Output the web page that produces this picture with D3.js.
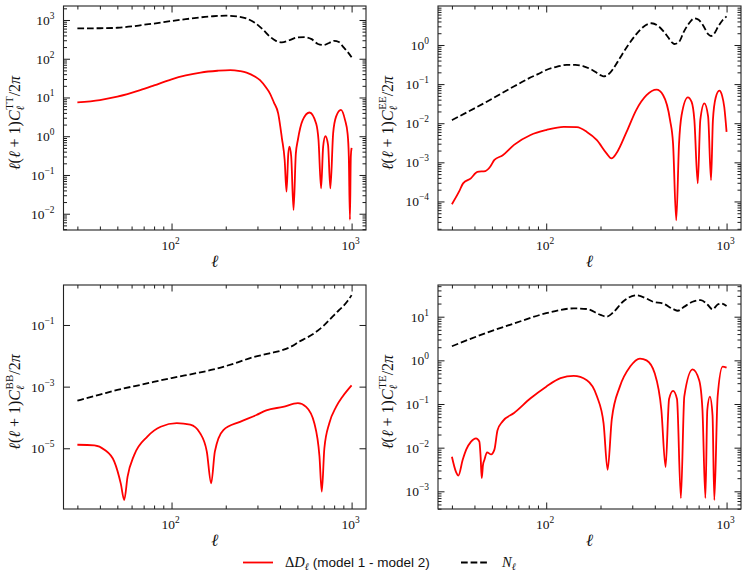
<!DOCTYPE html>
<html><head><meta charset="utf-8">
<script src="https://cdn.jsdelivr.net/npm/d3@7"></script>
<style>body{margin:0;background:#fff}svg{display:block}</style>
</head><body>
<svg id="c" width="747" height="582"></svg>
<script>
// ---------------- DATA ----------------
const ellTTnoise = [30,40,50,60,70,80,100,120,145,170,200,230,260,290,320,350,380,410,450,500,550,600,650,700,750,800,850,900,950,1000];
const TTnoise    = [610,612,630,680,750,810,940,1050,1170,1250,1290,1240,1100,850,580,380,290,265,300,355,360,320,240,225,255,290,270,200,150,109];
const ellTTdelta = [30,40,50,67,80,100,120,145,180,212,240,261,290,310,335,351,370,391,410,425,435,445,452,462,476,490,503,535,584,636,655,677,695,715,740,762,790,820,873,920,950,965,979,990,1000];
const TTdelta    = [7.5,8.6,10.5,15.5,20.5,29.5,37,44,49,51,48,44,35,28,18,13,7.5,3.9,0.9,0.24,0.037,0.35,0.54,0.3,0.0125,0.35,0.8,2.6,4.1,2.1,0.8,0.045,0.54,1.0,0.6,0.045,1.2,3.2,4.8,2.6,1.17,0.3,0.007,0.3,0.5];

const ellEEnoise = [30,40,50,60,70,80,90,100,115,130,145,160,180,200,208,225,245,265,285,310,345,384,420,460,500,515,545,580,620,663,700,740,790,820,850,900,950,1000];
const EEnoise    = [0.012,0.024,0.042,0.068,0.1,0.14,0.18,0.23,0.28,0.31,0.31,0.29,0.23,0.17,0.158,0.19,0.33,0.6,1.0,1.7,2.9,3.6,3.0,1.9,1.15,1.06,1.2,2.2,3.6,4.8,4.4,3.2,1.9,1.7,1.9,3.0,4.3,5.4];
const ellEEdelta = [30,32.9,34.6,38.2,41.5,46,49,51.6,57.2,66.3,81.9,100,125,148,168,191,216,230,245,279,316,360,409,445,486,505,526,545,563,610,640,663,692,715,753,790,820,840,870,912,945,971,1000];
const EEdelta    = [8.5e-5,1.8e-4,2.9e-4,3.9e-4,5.7e-4,6e-4,7.8e-4,1.15e-3,1.5e-3,2.8e-3,5e-3,6.7e-3,8.1e-3,7.9e-3,6e-3,3.7e-3,1.7e-3,1.26e-3,1.7e-3,6e-3,0.022,0.052,0.072,0.052,0.012,3e-3,3.3e-5,3e-3,0.016,0.046,0.035,0.012,2.9e-4,0.012,0.032,0.015,3.5e-4,0.012,0.045,0.068,0.05,0.026,6e-3];

const ellBBnoise = [30,40,50,70,100,140,171,220,284,350,416,470,513,570,636,700,786,850,892,950,1000];
const BBnoise    = [3.5e-4,5.5e-4,7.8e-4,1.2e-3,1.9e-3,2.8e-3,3.6e-3,5.5e-3,9e-3,1.2e-2,1.55e-2,2.1e-2,2.9e-2,4.0e-2,6.0e-2,9.5e-2,0.19,0.3,0.39,0.6,0.93];
const ellBBdelta = [30,37.3,42.4,48.1,52.3,54.6,57,62,73.4,87,107,127,144,157,166,174,194,240,296,336,416,503,559,621,663,683,706,752,820,892,1000];
const BBdelta    = [1.3e-5,1.25e-5,9e-6,3.7e-6,7e-7,2.1e-7,1.2e-6,6e-6,2.4e-5,5e-5,6.5e-5,5.8e-5,3.1e-5,7.8e-6,7.3e-7,7.8e-6,3.9e-5,7.2e-5,1.2e-4,1.7e-4,2.2e-4,2.9e-4,2.2e-4,6.5e-5,5.5e-6,3.9e-7,1e-5,6.5e-5,2.2e-4,4.8e-4,1.1e-3];

const ellTEnoise = [30,45.4,66.3,100,142,168,200,216,235,266,316,360,391,445,505,537,583,648,720,783,836,892,932,1000];
const TEnoise    = [2.1,4.1,7.0,12,15.5,15,11,10,12.5,22,31,26,22,20,15,13.7,17,22,24,19,14.7,19,20,17.5];
const ellTEdelta = [30,31.6,32.6,34.4,36,38.3,40.8,42.6,43.3,43.9,44.6,45.4,47,49.5,51.6,53.7,57.3,66.3,81.9,100,120,142,168,191,208,219,231,256,292,331,360,400,435,459,480,505,531,558,583,648,705,735,763,782,808,836,855,892,951,1000];
const TEdelta    = [6.2e-3,2.8e-3,2.3e-3,5.2e-3,9e-3,0.0138,0.0164,0.0138,6e-3,2e-3,4e-3,5.2e-3,7.8e-3,7e-3,9e-3,0.025,0.04,0.062,0.135,0.25,0.39,0.44,0.35,0.15,0.036,3.1e-3,0.045,0.25,0.72,1.1,1.0,0.5,0.073,3.6e-3,0.13,0.2,0.13,7e-4,0.15,0.62,0.35,0.073,7e-4,0.073,0.147,0.055,6.3e-4,0.147,0.72,0.68];

// tick values
const xMajorTicks = [100, 1000];
const xMinorTicks = [30,40,50,60,70,80,90,200,300,400,500,600,700,800,900];
const yMajorTT = [1e-2,1e-1,1e0,1e1,1e2,1e3];
const yMajorEE = [1e-4,1e-3,1e-2,1e-1,1e0];
const yMajorBB = [1e-5,1e-3,1e-1];
const yMajorTE = [1e-3,1e-2,1e-1,1e0,1e1];
const legendLabels = ["(model 1 - model 2)"];

// ---------------- LAYOUT ----------------
const svg = d3.select('#c');
const SERIF = "'Liberation Serif','DejaVu Serif',serif";
const SANS = "'Liberation Sans','DejaVu Sans',sans-serif";
const xDomain = [Math.pow(10,1.40), Math.pow(10,3.08)];
const RED = '#ff0000';

function minorsFor(dom){
  const out=[]; const lo=Math.floor(Math.log10(dom[0])), hi=Math.ceil(Math.log10(dom[1]));
  for(let k=lo;k<=hi;k++) for(let m=2;m<=9;m++){const v=m*Math.pow(10,k); if(v>dom[0]&&v<dom[1]) out.push(v);}
  return out;
}
function zip(a,b){return a.map((v,i)=>[v,b[i]]);}

const panels = [
  {id:'TT', x0:63.5, x1:366, y0:6,   y1:230, ydom:[Math.pow(10,-2.42),Math.pow(10,3.361)], major:yMajorTT, minor:true, lab:20,
   noise:zip(ellTTnoise,TTnoise), delta:zip(ellTTdelta,TTdelta)},
  {id:'EE', x0:438,  x1:741, y0:6,   y1:230, ydom:[Math.pow(10,-4.73),Math.pow(10,0.997)], major:yMajorEE, minor:true, lab:393,
   noise:zip(ellEEnoise,EEnoise), delta:zip(ellEEdelta,EEdelta)},
  {id:'BB', x0:63.5, x1:366, y0:285, y1:509, ydom:[Math.pow(10,-6.97),Math.pow(10,0.297)], major:yMajorBB, minor:false, lab:20,
   noise:zip(ellBBnoise,BBnoise), delta:zip(ellBBdelta,BBdelta)},
  {id:'TE', x0:438,  x1:741, y0:285, y1:509, ydom:[Math.pow(10,-3.405),Math.pow(10,1.726)], major:yMajorTE, minor:true, lab:393,
   noise:zip(ellTEnoise,TEnoise), delta:zip(ellTEdelta,TEdelta)},
];

function powLabel(sel, v, fs){
  const e = Math.round(Math.log10(v));
  sel.append('tspan').text('10');
  sel.append('tspan').text(e<0?('\u2212'+(-e)):String(e)).attr('dy',-6).style('font-size',(fs*0.7)+'px');
}

panels.forEach((p,i)=>{
  const x = d3.scaleLog().domain(xDomain).range([p.x0,p.x1]);
  const y = d3.scaleLog().domain(p.ydom).range([p.y1,p.y0]);
  const g = svg.append('g');
  const cid='clip'+i;
  g.append('clipPath').attr('id',cid).append('rect').attr('x',p.x0).attr('y',p.y0).attr('width',p.x1-p.x0).attr('height',p.y1-p.y0);
  const line = d3.line().x(d=>x(d[0])).y(d=>y(d[1])).curve(d3.curveMonotoneX);
  const plot = g.append('g').attr('clip-path',`url(#${cid})`);
  plot.append('path').attr('d',line(p.delta)).attr('fill','none').attr('stroke',RED).attr('stroke-width',1.8).attr('stroke-linejoin','round');
  plot.append('path').attr('d',line(p.noise)).attr('fill','none').attr('stroke','#000').attr('stroke-width',1.8).attr('stroke-dasharray','6.7,2.9');

  const tickG = g.append('g');
  const mk=(axis, tr)=>{const a=tickG.append('g').attr('transform',tr).call(axis); a.select('.domain').remove(); a.selectAll('text').remove(); a.selectAll('line').attr('stroke','#000').attr('stroke-width',0.9);};
  mk(d3.axisBottom(x).tickValues(xMajorTicks).tickSizeInner(-6.5).tickSizeOuter(0), `translate(0,${p.y1})`);
  mk(d3.axisBottom(x).tickValues(xMinorTicks).tickSizeInner(-3.5).tickSizeOuter(0), `translate(0,${p.y1})`);
  mk(d3.axisTop(x).tickValues(xMajorTicks).tickSizeInner(-6.5).tickSizeOuter(0), `translate(0,${p.y0})`);
  mk(d3.axisTop(x).tickValues(xMinorTicks).tickSizeInner(-3.5).tickSizeOuter(0), `translate(0,${p.y0})`);
  mk(d3.axisLeft(y).tickValues(p.major).tickSizeInner(-6.5).tickSizeOuter(0), `translate(${p.x0},0)`);
  mk(d3.axisRight(y).tickValues(p.major).tickSizeInner(-6.5).tickSizeOuter(0), `translate(${p.x1},0)`);
  if(p.minor){
    const mn = minorsFor(p.ydom);
    mk(d3.axisLeft(y).tickValues(mn).tickSizeInner(-3.5).tickSizeOuter(0), `translate(${p.x0},0)`);
    mk(d3.axisRight(y).tickValues(mn).tickSizeInner(-3.5).tickSizeOuter(0), `translate(${p.x1},0)`);
  }
  g.append('rect').attr('x',p.x0).attr('y',p.y0).attr('width',p.x1-p.x0).attr('height',p.y1-p.y0)
    .attr('fill','none').attr('stroke','#222').attr('stroke-width',1.1);

  xMajorTicks.forEach(v=>{
    const t=g.append('text').attr('x',x(v)-1).attr('y',p.y1+20).attr('text-anchor','middle')
      .style('font-family',SERIF).style('font-size','13.5px').attr('fill','#111');
    powLabel(t,v,13.5);
  });
  p.major.forEach(v=>{
    const t=g.append('text').attr('x',p.x0-9).attr('y',y(v)+5).attr('text-anchor','end')
      .style('font-family',SERIF).style('font-size','13.5px').attr('fill','#111');
    powLabel(t,v,13.5);
  });
  g.append('text').attr('x',(p.x0+p.x1)/2).attr('y',p.y1+37).attr('text-anchor','middle')
    .style('font-family',SERIF).style('font-size','17px').style('font-style','italic').attr('fill','#111').text('\u2113');
  const yl = g.append('text').attr('transform',`translate(${p.lab},${(p.y0+p.y1)/2+5}) rotate(-90)`)
    .attr('text-anchor','middle').style('font-family',SERIF).style('font-size','16px').attr('fill','#111');
  yl.append('tspan').text('\u2113').style('font-style','italic');
  yl.append('tspan').text('(');
  yl.append('tspan').text('\u2113').style('font-style','italic');
  yl.append('tspan').text(' + 1)');
  yl.append('tspan').text('C').style('font-style','italic');
  yl.append('tspan').text('\u2113').attr('dy',3.5).style('font-size','11px').style('font-style','italic');
  yl.append('tspan').text(p.id).attr('dx',-4).attr('dy',-11).style('font-size','11px');
  yl.append('tspan').text('/2').attr('dy',7.5);
  yl.append('tspan').text('\u03c0').style('font-style','italic');
});

// legend
const lg = svg.append('g');
lg.append('line').attr('x1',243).attr('x2',273).attr('y1',562.5).attr('y2',562.5).attr('stroke',RED).attr('stroke-width',1.8);
const t1 = lg.append('text').attr('x',285).attr('y',567).style('font-family',SERIF).style('font-size','14.5px').attr('fill','#111');
t1.append('tspan').text('\u0394');
t1.append('tspan').text('D').style('font-style','italic');
t1.append('tspan').text('\u2113').attr('dy',3).style('font-size','10px').style('font-style','italic');
t1.append('tspan').text(' '+legendLabels[0]).attr('dy',-3).style('font-family',SANS).style('font-size','13.5px');
lg.append('line').attr('x1',461).attr('x2',489).attr('y1',562.5).attr('y2',562.5).attr('stroke','#000').attr('stroke-width',1.8).attr('stroke-dasharray','6.7,2.9');
const t2 = lg.append('text').attr('x',502).attr('y',567).style('font-family',SERIF).style('font-size','14.5px').attr('fill','#111');
t2.append('tspan').text('N').style('font-style','italic');
t2.append('tspan').text('\u2113').attr('dy',3).style('font-size','10px').style('font-style','italic');
</script>
</body></html>
